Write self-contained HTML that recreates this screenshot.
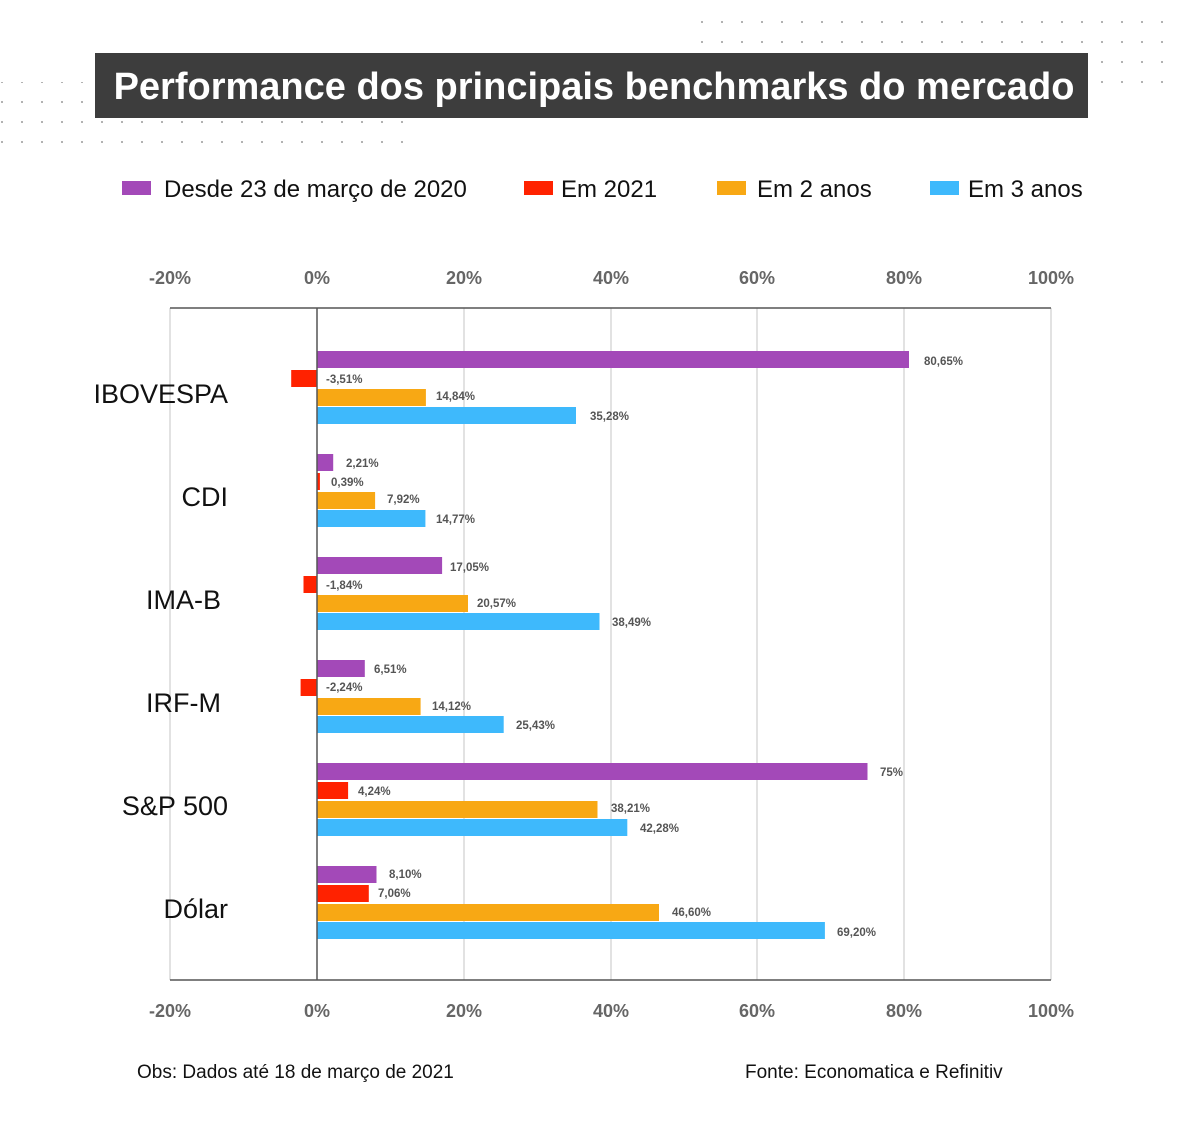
<!DOCTYPE html>
<html><head><meta charset="utf-8"><style>
body{margin:0;background:#fff;width:1201px;height:1121px;overflow:hidden}
</style></head><body>
<svg width="1201" height="1121" xmlns="http://www.w3.org/2000/svg" font-family="Liberation Sans, sans-serif">
<defs><pattern id="d" width="20" height="20" patternUnits="userSpaceOnUse"><circle cx="2" cy="2" r="1" fill="#999"/></pattern></defs>
<rect x="700" y="18" width="480" height="70" fill="url(#d)"/>
<rect x="0" y="82" width="420" height="70" fill="url(#d)"/>
<rect x="95" y="53" width="993" height="65" fill="#3d3d3d"/>
<text x="594" y="99" text-anchor="middle" fill="#fff" font-size="38" font-weight="bold">Performance dos principais benchmarks do mercado</text>
<g font-size="24" fill="#111">
<rect x="122" y="181" width="29" height="14" fill="#a349b8"/><text x="164" y="197">Desde 23 de março de 2020</text>
<rect x="524" y="181" width="29" height="14" fill="#ff2200"/><text x="561" y="197">Em 2021</text>
<rect x="717" y="181" width="29" height="14" fill="#f8a814"/><text x="757" y="197">Em 2 anos</text>
<rect x="930" y="181" width="29" height="14" fill="#3eb9fc"/><text x="968" y="197">Em 3 anos</text>
</g>
<g stroke="#c4c4c4" stroke-width="1">
<line x1="464" y1="308" x2="464" y2="980"/><line x1="611" y1="308" x2="611" y2="980"/>
<line x1="757" y1="308" x2="757" y2="980"/><line x1="904" y1="308" x2="904" y2="980"/>
<line x1="1051" y1="308" x2="1051" y2="980"/><line x1="170" y1="308" x2="170" y2="980"/>
</g>
<line x1="170" y1="308" x2="1051" y2="308" stroke="#555" stroke-width="1.5"/>
<line x1="170" y1="980" x2="1051" y2="980" stroke="#555" stroke-width="1.5"/>
<g font-size="18" font-weight="bold" fill="#666" text-anchor="middle">
<text x="170" y="284">-20%</text><text x="317" y="284">0%</text><text x="464" y="284">20%</text><text x="611" y="284">40%</text><text x="757" y="284">60%</text><text x="904" y="284">80%</text><text x="1051" y="284">100%</text>
<text x="170" y="1017">-20%</text><text x="317" y="1017">0%</text><text x="464" y="1017">20%</text><text x="611" y="1017">40%</text><text x="757" y="1017">60%</text><text x="904" y="1017">80%</text><text x="1051" y="1017">100%</text>
</g>
<g font-size="27" fill="#111" text-anchor="end">
<text x="228" y="403">IBOVESPA</text><text x="228" y="506">CDI</text><text x="221" y="609">IMA-B</text><text x="221" y="712">IRF-M</text><text x="228" y="815">S&amp;P 500</text><text x="228" y="918">Dólar</text>
</g>
<g>
<rect x="317" y="351" width="592" height="17" fill="#a349b8"/>
<rect x="291.2" y="370" width="25.8" height="17" fill="#ff2200"/>
<rect x="317" y="389" width="108.9" height="17" fill="#f8a814"/>
<rect x="317" y="407" width="259" height="17" fill="#3eb9fc"/>
<rect x="317" y="454" width="16.2" height="17" fill="#a349b8"/>
<rect x="317" y="473" width="2.9" height="17" fill="#ff2200"/>
<rect x="317" y="492" width="58.1" height="17" fill="#f8a814"/>
<rect x="317" y="510" width="108.4" height="17" fill="#3eb9fc"/>
<rect x="317" y="557" width="125.1" height="17" fill="#a349b8"/>
<rect x="303.5" y="576" width="13.5" height="17" fill="#ff2200"/>
<rect x="317" y="595" width="151" height="17" fill="#f8a814"/>
<rect x="317" y="613" width="282.5" height="17" fill="#3eb9fc"/>
<rect x="317" y="660" width="47.8" height="17" fill="#a349b8"/>
<rect x="300.6" y="679" width="16.4" height="17" fill="#ff2200"/>
<rect x="317" y="698" width="103.6" height="17" fill="#f8a814"/>
<rect x="317" y="716" width="186.7" height="17" fill="#3eb9fc"/>
<rect x="317" y="763" width="550.5" height="17" fill="#a349b8"/>
<rect x="317" y="782" width="31.1" height="17" fill="#ff2200"/>
<rect x="317" y="801" width="280.5" height="17" fill="#f8a814"/>
<rect x="317" y="819" width="310.3" height="17" fill="#3eb9fc"/>
<rect x="317" y="866" width="59.5" height="17" fill="#a349b8"/>
<rect x="317" y="885" width="51.8" height="17" fill="#ff2200"/>
<rect x="317" y="904" width="342" height="17" fill="#f8a814"/>
<rect x="317" y="922" width="507.9" height="17" fill="#3eb9fc"/>
</g>
<g font-size="11.5" font-weight="bold" fill="#555">
<text x="924" y="365">80,65%</text><text x="326" y="383">-3,51%</text><text x="436" y="400">14,84%</text><text x="590" y="420">35,28%</text>
<text x="346" y="467">2,21%</text><text x="331" y="486">0,39%</text><text x="387" y="503">7,92%</text><text x="436" y="523">14,77%</text>
<text x="450" y="571">17,05%</text><text x="326" y="589">-1,84%</text><text x="477" y="607">20,57%</text><text x="612" y="626">38,49%</text>
<text x="374" y="673">6,51%</text><text x="326" y="691">-2,24%</text><text x="432" y="710">14,12%</text><text x="516" y="729">25,43%</text>
<text x="880" y="776">75%</text><text x="358" y="795">4,24%</text><text x="611" y="812">38,21%</text><text x="640" y="832">42,28%</text>
<text x="389" y="878">8,10%</text><text x="378" y="897">7,06%</text><text x="672" y="916">46,60%</text><text x="837" y="936">69,20%</text>
</g>
<line x1="317" y1="308" x2="317" y2="980" stroke="#555" stroke-width="1.5"/>
<g font-size="19" fill="#111">
<text x="137" y="1078">Obs: Dados até 18 de março de 2021</text>
<text x="745" y="1078">Fonte: Economatica e Refinitiv</text>
</g>
</svg>
</body></html>
